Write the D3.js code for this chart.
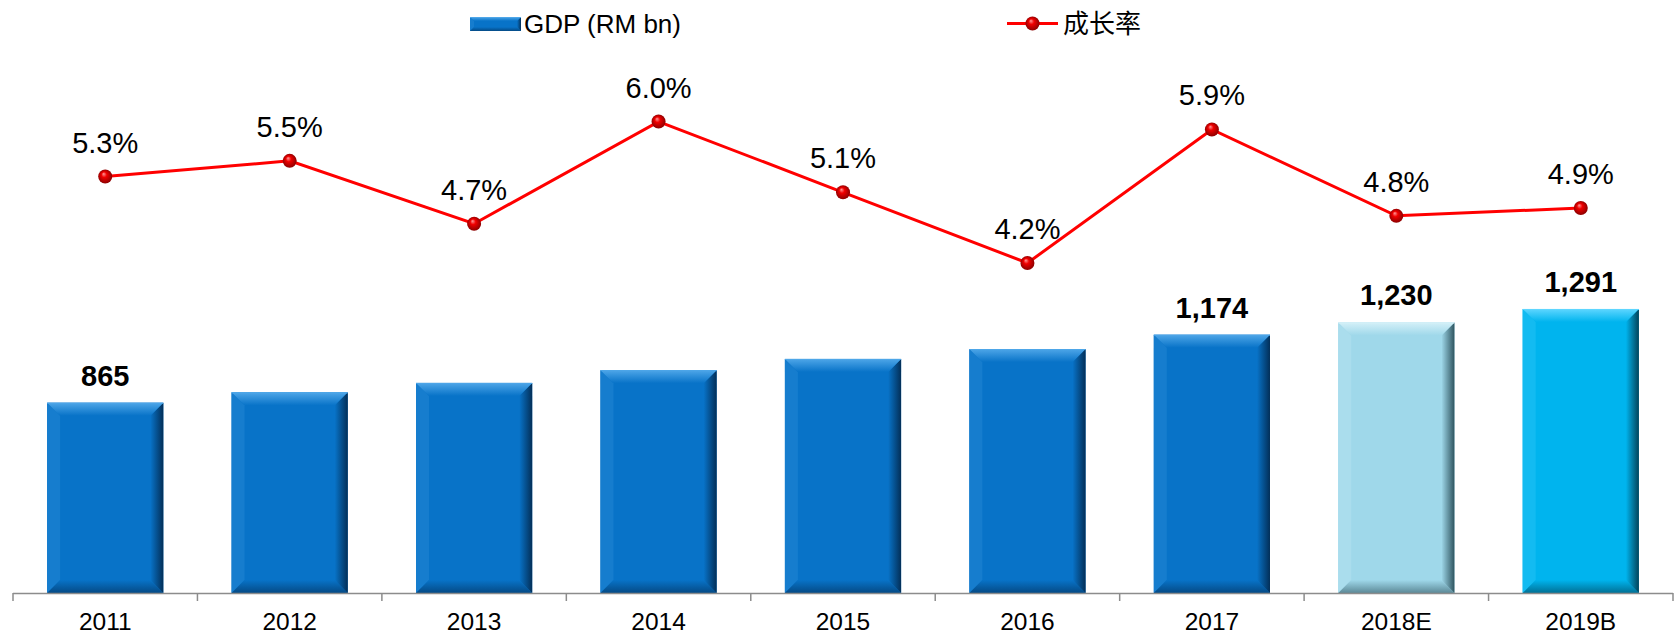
<!DOCTYPE html>
<html>
<head>
<meta charset="utf-8">
<script src="https://cdn.jsdelivr.net/npm/d3@7"></script>
<style>
  html, body { margin: 0; padding: 0; background: #fff; }
  text { font-family: "Liberation Sans", Arial, sans-serif; }
</style>
</head>
<body>
<script>
"use strict";

// data
var years = ["2011", "2012", "2013", "2014", "2015", "2016", "2017", "2018E", "2019B"];
var gdp = [865, 912, 955, 1013, 1064, 1109, 1174, 1230, 1291];
var growth = [5.3, 5.5, 4.7, 6.0, 5.1, 4.2, 5.9, 4.8, 4.9];
var gdpLabelled = ["2011", "2017", "2018E", "2019B"];
var seriesNames = ["GDP (RM bn)", "成长率"];

// dimensions
var width = 1676, height = 637;
var plot = {left: 13, right: 1673, top: 43, bottom: 593};

// bar colours: base, light edge, dark edge
var barStyle = {
  normal: ["#0873c8", "#4ea6e8", "#032f58"],
  "2018E": ["#9fd8ea", "#d4f0f8", "#2f5560"],
  "2019B": ["#00b4ee", "#5ed6ff", "#02435a"]
};
function styleFor(c) { return barStyle[c] || barStyle.normal; }

var x = d3.scaleBand().domain(years).range([plot.left, plot.right]).paddingInner(0.37).paddingOuter(0.185);
var band = d3.scaleBand().domain(years).range([plot.left, plot.right]);
var yBar = d3.scaleLinear().domain([0, 2500]).range([plot.bottom, plot.top]);
var yLine = d3.scaleLinear().domain([0, 7]).range([plot.bottom, plot.top]);

var svg = d3.select("body").append("svg")
    .attr("width", width)
    .attr("height", height);

var defs = svg.append("defs");

// gradients for the bevel faces
Object.keys(barStyle).forEach(function(k, i) {
  var s = barStyle[k];
  var g = defs.append("linearGradient").attr("id", "top" + i).attr("x1", 0).attr("y1", 0).attr("x2", 0).attr("y2", 1);
  g.append("stop").attr("offset", "0%").attr("stop-color", s[1]);
  g.append("stop").attr("offset", "100%").attr("stop-color", s[0]);
  var r = defs.append("linearGradient").attr("id", "right" + i).attr("x1", 0).attr("y1", 0).attr("x2", 1).attr("y2", 0);
  r.append("stop").attr("offset", "0%").attr("stop-color", s[0]);
  r.append("stop").attr("offset", "100%").attr("stop-color", s[2]);
  var b = defs.append("linearGradient").attr("id", "bottom" + i).attr("x1", 0).attr("y1", 0).attr("x2", 0).attr("y2", 1);
  b.append("stop").attr("offset", "0%").attr("stop-color", s[0]);
  b.append("stop").attr("offset", "100%").attr("stop-color", d3.interpolateRgb(s[0], s[2])(0.6));
  s.idx = i;
});

var ball = defs.append("radialGradient").attr("id", "ball")
    .attr("cx", "50%").attr("cy", "50%").attr("r", "55%").attr("fx", "38%").attr("fy", "30%");
ball.append("stop").attr("offset", "0%").attr("stop-color", "#ff9a9a");
ball.append("stop").attr("offset", "35%").attr("stop-color", "#f00000");
ball.append("stop").attr("offset", "100%").attr("stop-color", "#800000");

// draws one bevelled block
function bevelBar(g, x0, x1, y0, y1, s, b) {
  var i = s.idx;
  g.append("rect").attr("x", x0).attr("y", y0).attr("width", x1 - x0).attr("height", y1 - y0).attr("fill", s[0]);
  var poly = function(pts, fill) {
    g.append("polygon").attr("points", pts.map(function(p) { return p.join(","); }).join(" ")).attr("fill", fill);
  };
  poly([[x0, y0], [x0 + b, y0 + b], [x0 + b, y1 - b], [x0, y1]], d3.interpolateRgb(s[0], s[1])(0.2));
  poly([[x0, y1], [x1, y1], [x1 - b, y1 - b], [x0 + b, y1 - b]], "url(#bottom" + i + ")");
  poly([[x1, y0], [x1, y1], [x1 - b, y1 - b], [x1 - b, y0 + b]], "url(#right" + i + ")");
  poly([[x0, y0], [x1, y0], [x1 - b, y0 + b], [x0 + b, y0 + b]], "url(#top" + i + ")");
  g.append("line").attr("x1", x0).attr("x2", x1).attr("y1", y0 + 0.5).attr("y2", y0 + 0.5)
    .attr("stroke", s[1]).attr("stroke-width", 1);
}

// bars
var bars = svg.append("g");
years.forEach(function(c, i) {
  var g = bars.append("g");
  bevelBar(g, x(c), x(c) + x.bandwidth(), yBar(gdp[i]), yBar(0), styleFor(c), 13);
});

// bar value labels
svg.append("g").selectAll("text")
    .data(years.filter(function(c) { return gdpLabelled.indexOf(c) >= 0; }))
  .enter().append("text")
    .attr("x", function(c) { return x(c) + x.bandwidth() / 2; })
    .attr("y", function(c) { return yBar(gdp[years.indexOf(c)]) - 17; })
    .attr("text-anchor", "middle")
    .attr("font-size", 29)
    .attr("font-weight", "bold")
    .text(function(c) { return d3.format(",")(gdp[years.indexOf(c)]); });

// x axis: baseline with ticks between categories
var axis = svg.append("g");
axis.append("line")
    .attr("x1", plot.left).attr("x2", plot.right)
    .attr("y1", plot.bottom + 0.5).attr("y2", plot.bottom + 0.5)
    .attr("stroke", "#8c8c8c").attr("stroke-width", 1.5);
axis.selectAll(".tick").data(years.concat(["end"]))
  .enter().append("line")
    .attr("x1", function(c) { return c === "end" ? plot.right : band(c); })
    .attr("x2", function(c) { return c === "end" ? plot.right : band(c); })
    .attr("y1", plot.bottom).attr("y2", plot.bottom + 8)
    .attr("stroke", "#8c8c8c").attr("stroke-width", 1.5);
axis.selectAll("text").data(years)
  .enter().append("text")
    .attr("x", function(c) { return band(c) + band.bandwidth() / 2; })
    .attr("y", 630)
    .attr("text-anchor", "middle")
    .attr("font-size", 24.5)
    .text(function(c) { return c; });

// growth line
var valueline = d3.line()
    .x(function(d, i) { return band(years[i]) + band.bandwidth() / 2; })
    .y(function(d) { return yLine(d); });

svg.append("path")
    .datum(growth)
    .attr("d", valueline)
    .attr("fill", "none")
    .attr("stroke", "#ff0000")
    .attr("stroke-width", 3);

svg.append("g").selectAll("circle").data(growth)
  .enter().append("circle")
    .attr("cx", function(d, i) { return band(years[i]) + band.bandwidth() / 2; })
    .attr("cy", function(d) { return yLine(d); })
    .attr("r", 7)
    .attr("fill", "url(#ball)");

svg.append("g").selectAll("text").data(growth)
  .enter().append("text")
    .attr("x", function(d, i) { return band(years[i]) + band.bandwidth() / 2; })
    .attr("y", function(d) { return yLine(d) - 24; })
    .attr("text-anchor", "middle")
    .attr("font-size", 29)
    .text(function(d) { return d.toFixed(1) + "%"; });

// legend
var leg = svg.append("g");
var lg1 = leg.append("g");
bevelBar(lg1, 470, 521, 17, 31, barStyle.normal, 4);
leg.append("text")
    .attr("x", 524).attr("y", 33)
    .attr("font-size", 26)
    .text(seriesNames[0]);

leg.append("line")
    .attr("x1", 1007).attr("x2", 1058).attr("y1", 23.5).attr("y2", 23.5)
    .attr("stroke", "#ff0000").attr("stroke-width", 3);
leg.append("circle")
    .attr("cx", 1032.5).attr("cy", 23.5).attr("r", 7)
    .attr("fill", "url(#ball)");
leg.append("text")
    .attr("x", 1063).attr("y", 33)
    .attr("font-size", 26)
    .style("font-family", "'Noto Sans CJK SC', sans-serif")
    .text(seriesNames[1]);
</script>
</body>
</html>
